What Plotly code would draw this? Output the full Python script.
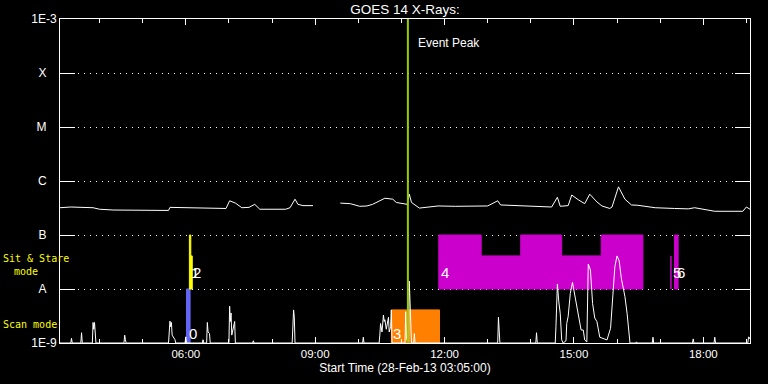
import plotly.graph_objects as go

DATE = "2013-02-28"
TITLE = "GOES 14 X-Rays:"
XLABEL = "Start Time (28-Feb-13 03:05:00)"
EVENT_PEAK = "11:09"

# GOES long channel (1-8 A), W/m^2 ; None = data gap
long_series = [
    ("03:05", 3.2e-7), ("03:20", 3.3e-7), ("03:51", 3.2e-7), ("04:00", 3.0e-7),
    ("04:19", 2.9e-7), ("05:00", 2.85e-7), ("05:36", 2.85e-7), ("05:38", 3.25e-7),
    ("06:20", 3.2e-7), ("06:56", 3.1e-7), ("07:01", 4.3e-7), ("07:09", 3.9e-7),
    ("07:18", 3.2e-7), ("07:28", 3.25e-7), ("07:36", 3.7e-7), ("07:43", 3.0e-7),
    ("08:19", 3.0e-7), ("08:25", 3.2e-7), ("08:32", 4.6e-7), ("08:36", 3.7e-7),
    ("08:43", 3.5e-7), ("08:57", 3.5e-7), ("09:16", None), ("09:35", 3.9e-7),
    ("09:49", 3.8e-7), ("10:02", 3.4e-7), ("10:12", 3.45e-7), ("10:20", 3.7e-7),
    ("10:37", 4.8e-7), ("10:48", 4.6e-7), ("10:53", 4.0e-7), ("11:08", 3.7e-7),
    ("11:11", 5.7e-7), ("11:14", 4.0e-7), ("11:19", 3.6e-7), ("11:25", 3.15e-7),
    ("11:51", 3.45e-7), ("12:15", 3.4e-7), ("13:00", 3.45e-7), ("13:06", 3.8e-7),
    ("13:14", 4.3e-7), ("13:18", 3.6e-7), ("13:48", 3.45e-7), ("14:10", 3.3e-7),
    ("14:29", 3.3e-7), ("14:37", 5.0e-7), ("14:41", 3.4e-7), ("14:52", 3.5e-7),
    ("14:57", 5.5e-7), ("15:06", 4.5e-7), ("15:15", 3.8e-7), ("15:22", 5.7e-7),
    ("15:32", 4.1e-7), ("15:39", 3.45e-7), ("15:50", 3.1e-7), ("15:53", 3.3e-7),
    ("16:02", 7.8e-7), ("16:11", 4.6e-7), ("16:20", 3.6e-7), ("16:29", 3.55e-7),
    ("16:53", 3.2e-7), ("17:20", 3.1e-7), ("17:39", 3.05e-7), ("17:48", 3.2e-7),
    ("18:02", 3.0e-7), ("18:16", 2.75e-7), ("18:55", 2.75e-7), ("19:00", 3.3e-7),
    ("19:05", 3.0e-7),
]

# GOES short channel (0.5-4 A), W/m^2
short_series = [
    ("03:05", 1e-9), ("03:20", 1e-9), ("03:21", 1.22e-9), ("03:22", 1e-9),
    ("03:34", 1e-9), ("03:35", 1.55e-9), ("03:36", 1e-9),
    ("03:50", 1e-9), ("03:51", 2.4e-9), ("03:52", 1.8e-9), ("03:53", 2.4e-9), ("03:54", 1.3e-9), ("03:55", 1e-9),
    ("04:34", 1e-9), ("04:35", 1.4e-9), ("04:36", 1.15e-9), ("04:37", 1e-9),
    ("05:36", 1e-9), ("05:37", 1.4e-9), ("05:38", 2.55e-9), ("05:39", 2.0e-9), ("05:40", 2.4e-9),
    ("05:41", 1.4e-9), ("05:43", 1.3e-9), ("05:45", 1.15e-9), ("05:46", 1e-9),
    ("05:59", 1e-9), ("06:00", 1.3e-9), ("06:01", 1e-9),
    ("06:23", 1e-9), ("06:24", 1.15e-9), ("06:25", 1e-9),
    ("06:29", 1e-9), ("06:30", 2.4e-9), ("06:31", 1.6e-9), ("06:33", 1.5e-9), ("06:34", 1e-9),
    ("07:00", 1e-9), ("07:01", 4.8e-9), ("07:02", 2.5e-9), ("07:03", 3.6e-9), ("07:04", 1.4e-9),
    ("07:06", 2.0e-9), ("07:08", 2.5e-9), ("07:09", 1e-9),
    ("07:33", 1e-9), ("07:34", 1.1e-9), ("07:35", 1e-9),
    ("08:28", 1e-9), ("08:29", 2.5e-9), ("08:30", 4.1e-9), ("08:31", 3.0e-9), ("08:32", 1e-9),
    ("10:06", 1e-9), ("10:07", 1.28e-9), ("10:08", 1e-9),
    ("10:29", 1e-9), ("10:30", 1.4e-9), ("10:31", 2.3e-9), ("10:33", 1.6e-9), ("10:35", 3.3e-9),
    ("10:36", 2.5e-9), ("10:37", 2.7e-9), ("10:39", 1.8e-9), ("10:40", 2.2e-9), ("10:42", 3.0e-9),
    ("10:43", 1.6e-9), ("10:45", 2.0e-9), ("10:46", 4.1e-9), ("10:47", 1e-9),
    ("11:05", 1e-9), ("11:06", 3.8e-9), ("11:07", 1.2e-9), ("11:10", 1e-9), ("11:11", 1.4e-8),
    ("11:12", 4e-9), ("11:13", 2.7e-9), ("11:14", 1e-9),
    ("11:17", 1e-9), ("11:18", 1.5e-9), ("11:19", 1e-9),
    ("13:14", 1e-9), ("13:15", 3.0e-9), ("13:16", 1.5e-9), ("13:17", 1e-9),
    ("14:07", 1e-9), ("14:08", 1.55e-9), ("14:09", 1e-9),
    ("14:34", 1e-9), ("14:35", 2.0e-9), ("14:37", 1.24e-8), ("14:39", 5.8e-9), ("14:41", 3.5e-9),
    ("14:43", 1.14e-9), ("14:45", 1e-9),
    ("14:49", 1.1e-9), ("14:50", 2.3e-9), ("14:52", 3.1e-9), ("14:55", 8.3e-9), ("14:58", 1.33e-8),
    ("15:00", 9.6e-9), ("15:04", 4.7e-9), ("15:07", 3.3e-9), ("15:10", 1.74e-9), ("15:13", 1.74e-9),
    ("15:15", 1.14e-9), ("15:18", 1.05e-9),
    ("15:20", 2.9e-8), ("15:23", 2.25e-8), ("15:26", 5.4e-9), ("15:29", 2.9e-9), ("15:32", 2.5e-9),
    ("15:36", 1.28e-9), ("15:41", 1.22e-9), ("15:46", 1.14e-9),
    ("15:51", 1.87e-9), ("15:55", 9.6e-9), ("15:57", 2.6e-8), ("16:00", 4.1e-8), ("16:03", 3.3e-8),
    ("16:06", 1.58e-8), ("16:11", 7.2e-9), ("16:14", 3.55e-9), ("16:18", 1e-9),
    ("16:26", 1e-9), ("16:27", 1.05e-9), ("16:28", 1e-9),
    ("16:49", 1e-9), ("16:50", 1.28e-9), ("16:51", 1e-9),
    ("17:45", 1e-9), ("17:46", 1.19e-9), ("17:47", 1e-9),
    ("18:15", 1e-9), ("18:16", 1.28e-9), ("18:17", 1e-9),
    ("19:02", 1e-9), ("19:03", 1.3e-9), ("19:04", 1.2e-9), ("19:05", 1.28e-9),
]

# Observation blocks (segments), id, mode
block_ids = ["0", "1", "2", "3", "4", "5", "6"]
block_mode = ["scan", "sit", "sit", "scan", "sit", "sit", "sit"]
seg_block = ["0", "1", "2", "3", "4", "4", "4", "4", "4", "5", "6"]
seg_start = ["06:01", "06:05", "06:07", "10:46", "11:52", "12:51", "13:46", "14:43", "15:38", "17:15", "17:20"]
seg_end = ["06:06", "06:07", "06:09", "11:53", "12:51", "13:46", "14:43", "15:38", "16:36", "17:16", "17:25"]
seg_low = [1e-9, 1e-8, 1e-8, 1e-9, 1e-8, 1e-8, 1e-8, 1e-8, 1e-8, 1e-8, 1e-8]
seg_high = [1e-8, 1e-7, 4.1e-8, 4.1e-9, 1e-7, 4.1e-8, 1e-7, 4.1e-8, 1e-7, 4.1e-8, 1e-7]

# Y axis ticks
y_tickvals = [1e-9, 1e-8, 1e-7, 1e-6, 1e-5, 1e-4, 1e-3]
y_ticktext = ["1E-9", "A", "B", "C", "M", "X", "1E-3"]

# Mode legend texts on the left
mode_texts = ["Sit & Stare", "mode", "Scan mode"]

# ---------------- styles ----------------
BLOCK_COLORS = {"0": "#6464f4", "1": "#ffff00", "2": "#ffff00", "3": "#ff8000",
                "4": "#cc00cc", "5": "#cc00cc", "6": "#cc00cc"}
LABEL_Y = {"scan": (343 - 333) / 324, "sit": (343 - 272) / 324}
MODE_TEXT_POS = [(1, 258.5), (12, 271.5), (1, 324)]
FONT = "Liberation Sans"
MONO = "DejaVu Sans Mono"


def ts(hm):
    return f"{DATE} {hm}"


fig = go.Figure()

for bid in block_ids:
    idx = [i for i, b in enumerate(seg_block) if b == bid]
    xs = [ts(seg_start[idx[0]])]
    ys = [seg_low[idx[0]]]
    for i in idx:
        xs += [ts(seg_start[i]), ts(seg_end[i])]
        ys += [seg_high[i], seg_high[i]]
    xs += [ts(seg_end[idx[-1]]), ts(seg_start[idx[0]])]
    ys += [seg_low[idx[-1]], seg_low[idx[0]]]
    c = BLOCK_COLORS[bid]
    fig.add_trace(go.Scatter(x=xs, y=ys, mode="lines", fill="toself", fillcolor=c,
                             line=dict(width=1, color=c), hoverinfo="skip", showlegend=False))

fig.add_trace(go.Scatter(x=[ts(t) for t, _ in long_series], y=[v for _, v in long_series],
                         mode="lines", line=dict(color="white", width=1), connectgaps=False,
                         showlegend=False))
fig.add_trace(go.Scatter(x=[ts(t) for t, _ in short_series], y=[v for _, v in short_series],
                         mode="lines", line=dict(color="white", width=1), showlegend=False))
fig.add_trace(go.Scatter(x=[ts(EVENT_PEAK), ts(EVENT_PEAK)], y=[1e-9, 1e-3], mode="lines",
                         line=dict(color="#99cc00", width=2), showlegend=False))

annotations = []
for bid, mode in zip(block_ids, block_mode):
    first = seg_block.index(bid)
    annotations.append(dict(x=ts(seg_start[first]), xref="x", y=LABEL_Y[mode], yref="paper",
                            text=bid, showarrow=False, xanchor="left", yanchor="middle",
                            font=dict(size=15, color="white", family=FONT)))
annotations.append(dict(x=ts(EVENT_PEAK), xref="x", y=(343 - 43) / 324, yref="paper",
                        text="Event Peak", showarrow=False, xanchor="left", yanchor="middle",
                        xshift=8, font=dict(size=12, color="white", family=FONT)))
for txt, (xp, yp) in zip(mode_texts, MODE_TEXT_POS):
    annotations.append(dict(x=(xp - 60) / 690, xref="paper", y=(343 - yp) / 324, yref="paper",
                            text=txt, showarrow=False, xanchor="left", yanchor="middle",
                            font=dict(size=10, color="#ffff00", family=MONO)))

fig.update_layout(
    width=768, height=384,
    margin=dict(l=60, r=18, t=19, b=41),
    paper_bgcolor="black", plot_bgcolor="black",
    font=dict(family=FONT, color="white", size=12),
    showlegend=False,
    title=dict(text=TITLE, x=0.5, xref="paper", xanchor="center", y=1 - 9 / 384,
               yref="container", yanchor="middle", font=dict(size=13.5, color="white")),
    annotations=annotations,
    xaxis=dict(type="date", range=[ts("03:05"), ts("19:05")], tick0=ts("00:00"),
               dtick=3 * 3600000, tickformat="%H:%M", ticks="inside", ticklen=6,
               tickcolor="white", showline=True, linecolor="white", linewidth=1,
               mirror="allticks", showgrid=False, zeroline=False,
               tickfont=dict(size=11.5),
               minor=dict(dtick=3600000, tick0=ts("00:00"), ticks="inside", ticklen=4,
                          tickcolor="white", showgrid=False),
               title=dict(text=XLABEL, font=dict(size=12), standoff=4)),
    yaxis=dict(type="log", range=[-9, -3], tickmode="array", tickvals=y_tickvals,
               ticktext=[t if t.startswith("1E") else t + "\u00a0\u00a0\u00a0" for t in y_ticktext],
               ticks="inside", ticklen=15, tickcolor="white", showline=True,
               linecolor="white", linewidth=1, mirror="allticks", showgrid=True,
               gridcolor="white", gridwidth=1, griddash="1px,5px", zeroline=False,
               tickfont=dict(size=12)),
)

fig.write_html("out.html")
